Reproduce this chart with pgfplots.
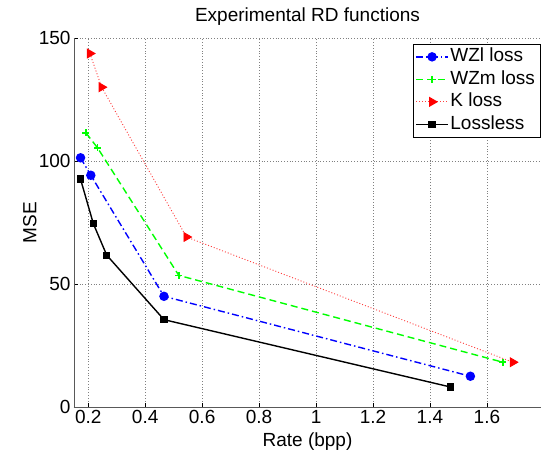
\documentclass[border=0pt]{standalone}
\usepackage{fontspec}
\setmainfont{Liberation Sans}
\usepackage{pgfplots}
\pgfplotsset{compat=1.18}
\begin{document}
\begin{tikzpicture}
\useasboundingbox (-74pt,-47pt) rectangle (467pt,407pt);
\begin{axis}[
  at={(0,0)}, anchor=south west,
  scale only axis,
  width=467pt, height=369pt,
  xmin=0.15, xmax=1.79,
  ymin=0, ymax=150,
  xtick={0.2,0.4,...,1.6},
  ytick={0,50,100,150},
  xticklabels={0.2,0.4,0.6,0.8,1,1.2,1.4,1.6},
  axis x line=bottom, axis y line=left,
  axis line style={gray!70!black, line width=0.8pt, -},
  tick align=inside,
  major tick length=4pt,
  tick style={black, line width=0.6pt},
  grid=major,
  major grid style={gray, dash pattern=on 0.8pt off 2pt, line width=0.6pt},
  font=\fontsize{19}{22}\selectfont,
  ticklabel style={font=\fontsize{19}{22}\selectfont},
  /pgf/number format/assume math mode=true,
  title={Experimental RD functions},
  title style={at={(0.5,1)}, anchor=south, yshift=3pt},
  xlabel={Rate (bpp)},
  ylabel={MSE},
  xlabel style={at={(0.5,0)}, anchor=north, yshift=-22pt},
  ylabel style={at={(0,0.5)}, anchor=south, yshift=34pt},
  legend style={at={(0.998,0.984)}, anchor=north east, draw=black,
    font=\fontsize{19}{22}\selectfont, row sep=1pt, inner xsep=3pt, inner ysep=2pt,
    nodes={inner xsep=2pt, inner ysep=2pt, text height=13.5pt, text depth=4pt}},
  legend cell align=left,
  legend image code/.code={\draw[mark repeat=2,mark phase=2] plot coordinates {(0cm,0cm) (0.55cm,0cm) (1.1cm,0cm)};},
]
\addplot[blue, line width=1.4pt, dash pattern=on 7pt off 3pt on 1.5pt off 3pt, mark=*, mark size=4pt, mark options={solid}]
  coordinates {(0.173,101.3) (0.209,94.2) (0.466,45.0) (1.542,12.5)};
\addlegendentry{WZl loss}
\addplot[green, line width=1.4pt, dash pattern=on 7pt off 4pt, mark=+, mark size=3.5pt, mark options={solid, line width=1.6pt}]
  coordinates {(0.192,111.4) (0.233,105.3) (0.518,53.5) (1.656,18.2)};
\addlegendentry{WZm loss}
\addplot[red!75, line width=0.9pt, dash pattern=on 1pt off 2pt, mark=triangle*, mark size=5pt, mark options={solid, red, rotate=-90}]
  coordinates {(0.206,143.7) (0.247,130.0) (0.545,69.1) (1.691,18.2)};
\addlegendentry{K loss}
\addplot[black, line width=1.4pt, solid, mark=square*, mark size=3pt]
  coordinates {(0.173,92.6) (0.218,74.5) (0.265,61.7) (0.466,35.5) (1.473,8.1)};
\addlegendentry{Lossless}
\end{axis}
\end{tikzpicture}
\end{document}
